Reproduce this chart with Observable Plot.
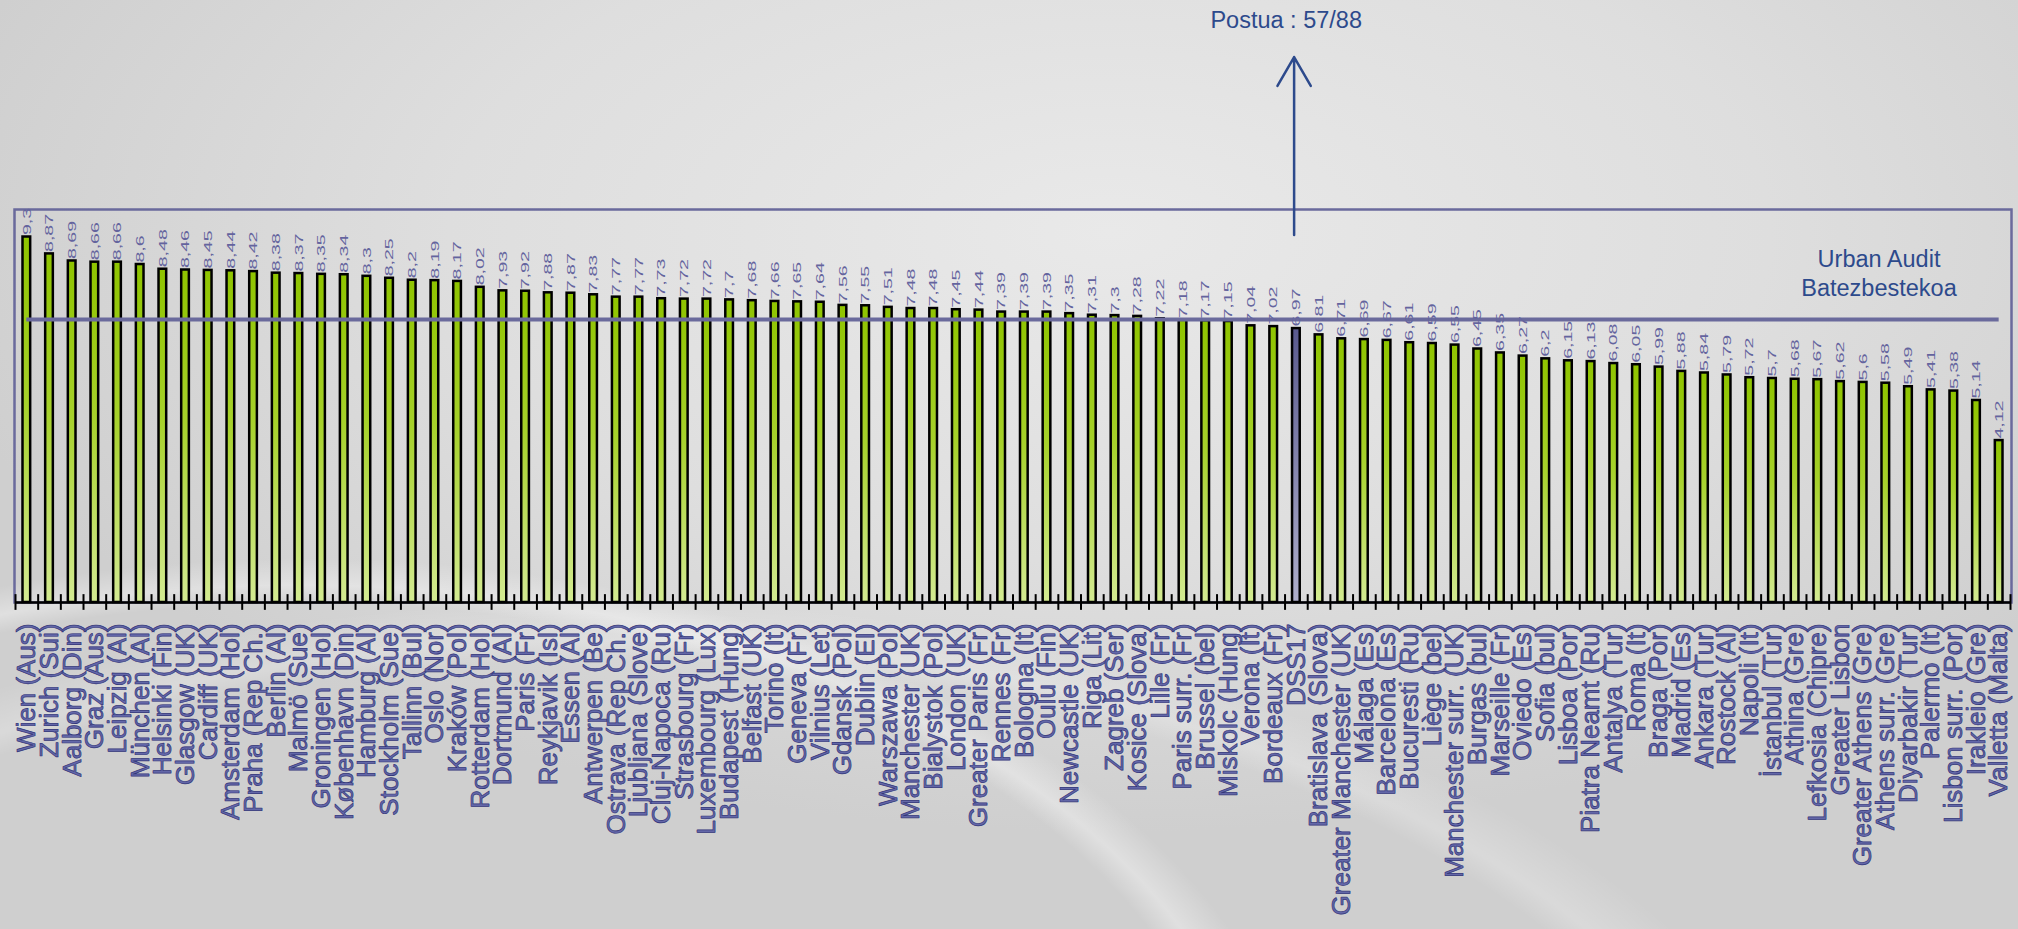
<!DOCTYPE html>
<html>
<head>
<meta charset="utf-8">
<script src="https://cdn.jsdelivr.net/npm/d3@7"></script>
<script src="https://cdn.jsdelivr.net/npm/@observablehq/plot@0.6"></script>
<style>
html, body { margin: 0; padding: 0; width: 2018px; height: 929px; overflow: hidden; }
body {
  font-family: "Liberation Sans", Arial, sans-serif;
  background:
    radial-gradient(ellipse 1500px 900px at 15% 125%, rgba(255,255,255,0) 62%, rgba(255,255,255,0.35) 64%, rgba(255,255,255,0) 67%),
    radial-gradient(ellipse 1800px 1000px at 30% 140%, rgba(255,255,255,0) 64%, rgba(255,255,255,0.22) 66%, rgba(255,255,255,0) 70%),
    radial-gradient(ellipse 1200px 600px at 55% 25%, #e9e9e9 0%, #dedede 55%, #cfcfcf 100%);
}
#chart svg { display: block; }
</style>
</head>
<body>
<div id="chart"></div>
<script>
// ---- data ----
const cities = [
  "Wien (Aus)", "Zurich (Sui)", "Aalborg (Din)", "Graz (Aus)", "Leipzig (Al)", "München (Al)", "Helsinki (Fin)", "Glasgow (UK)", "Cardiff (UK)", "Amsterdam (Hol)",
  "Praha (Rep Ch.)", "Berlin (Al)", "Malmö (Sue)", "Groningen (Hol)", "København (Din)", "Hamburg (Al)", "Stockholm (Sue)", "Tallinn (Bul)", "Oslo (Nor)", "Kraków (Pol)",
  "Rotterdam (Hol)", "Dortmund (Al)", "Paris (Fr)", "Reykjavik (Isl)", "Essen (Al)", "Antwerpen (Be)", "Ostrava (Rep Ch.)", "Ljubljana (Slove)", "Cluj-Napoca (Ru)", "Strasbourg (Fr)",
  "Luxembourg (Lux)", "Budapest (Hung)", "Belfast (UK)", "Torino (It)", "Geneva (Fr)", "Vilnius (Let)", "Gdansk (Pol)", "Dublin (EI)", "Warszawa (Pol)", "Manchester (UK)",
  "Bialystok (Pol)", "London (UK)", "Greater Paris (Fr)", "Rennes (Fr)", "Bologna (It)", "Oulu (Fin)", "Newcastle (UK)", "Riga (Lit)", "Zagreb (Ser)", "Kosice (Slova)",
  "Lille (Fr)", "Paris surr. (Fr)", "Brussel (bel)", "Miskolc (Hung)", "Verona (It)", "Bordeaux (Fr)", "DSS17", "Bratislava (Slova)", "Greater Manchester (UK)", "Málaga (Es)",
  "Barcelona (Es)", "Bucuresti (Ru)", "Liège (bel)", "Manchester surr. (UK)", "Burgas (bul)", "Marseille (Fr)", "Oviedo (Es)", "Sofia (bul)", "Lisboa (Por)", "Piatra Neamt (Ru)",
  "Antalya (Tur)", "Roma (It)", "Braga (Por)", "Madrid (Es)", "Ankara (Tur)", "Rostock (Al)", "Napoli (It)", "İstanbul (Tur)", "Athina (Gre)", "Lefkosia (Chipre)",
  "Greater Lisbon", "Greater Athens (Gre)", "Athens surr. (Gre)", "Diyarbakir (Tur)", "Palermo (It)", "Lisbon surr. (Por)", "Irakleio (Gre)", "Valletta (Malta)"
];
const values = [
  9.3, 8.87, 8.69, 8.66, 8.66, 8.6, 8.48, 8.46, 8.45, 8.44,
  8.42, 8.38, 8.37, 8.35, 8.34, 8.3, 8.25, 8.2, 8.19, 8.17,
  8.02, 7.93, 7.92, 7.88, 7.87, 7.83, 7.77, 7.77, 7.73, 7.72,
  7.72, 7.7, 7.68, 7.66, 7.65, 7.64, 7.56, 7.55, 7.51, 7.48,
  7.48, 7.45, 7.44, 7.39, 7.39, 7.39, 7.35, 7.31, 7.3, 7.28,
  7.22, 7.18, 7.17, 7.15, 7.04, 7.02, 6.97, 6.81, 6.71, 6.69,
  6.67, 6.61, 6.59, 6.55, 6.45, 6.35, 6.27, 6.2, 6.15, 6.13,
  6.08, 6.05, 5.99, 5.88, 5.84, 5.79, 5.72, 5.7, 5.68, 5.67,
  5.62, 5.6, 5.58, 5.49, 5.41, 5.38, 5.14, 4.12
];
const highlight = "DSS17";
const average = 7.2;
const averageLabel = ["Urban Audit", "Batezbestekoa"];
const rankLabel = "Postua : 57/88";

// ---- build ----
const data = cities.map((city, i) => ({city, value: values[i], i}));
const rank = cities.indexOf(highlight);
const fmt = v => String(v).replace(".", ",");
const purple = "#6a6a9c";
const blue = "#2d4a8c";
const font = "Liberation Sans, Arial, sans-serif";

// stretch value labels along their reading direction, like the original
const stretch = (index, scales, vals, dims, context, next) => {
  const g = next(index, scales, vals, dims, context);
  if (g) g.querySelectorAll("text").forEach(t => {
    const tr = t.getAttribute("transform") || "";
    if (!/scale/.test(tr)) t.setAttribute("transform", tr + " scale(1.7,1)");
  });
  return g;
};

const chart = Plot.plot({
  width: 2018,
  height: 929,
  marginLeft: 15,
  marginRight: 8,
  marginTop: 209,
  marginBottom: 327,
  style: {background: "transparent", fontFamily: font, overflow: "visible"},
  x: {domain: [0, cities.length], axis: null},
  y: {domain: [0, 10], axis: null},
  marks: [
    Plot.frame({stroke: purple, strokeWidth: 2.5, insetLeft: -1, insetRight: -1}),
    Plot.rectY(data.filter(d => d.city !== highlight), {
      x1: d => d.i, x2: d => d.i + 1, y: "value",
      insetLeft: 7.5, insetRight: 7.5,
      fill: "url(#gGreen)", stroke: "#000", strokeWidth: 2.5
    }),
    Plot.rectY(data.filter(d => d.city === highlight), {
      x1: d => d.i, x2: d => d.i + 1, y: "value",
      insetLeft: 7.5, insetRight: 7.5,
      fill: "url(#gPurple)", stroke: "#000", strokeWidth: 2.5
    }),
    Plot.ruleY([0], {stroke: "#000", strokeWidth: 2.5}),
    Plot.ruleX(d3.range(cities.length + 1), {x: d => d, y1: -0.2, y2: 0.2, stroke: "#000", strokeWidth: 2}),
    Plot.ruleY([average], {x1: 0.5, x2: cities.length - 0.5, stroke: purple, strokeWidth: 4}),
    Plot.text(data, {
      x: d => d.i + 0.5, y: "value", text: d => fmt(d.value),
      rotate: -90, textAnchor: "start", dy: -2,
      fontSize: 11.5, fill: "#64649e",
      render: stretch
    }),
    Plot.text(data, {
      x: d => d.i + 0.5, y: 0, text: "city",
      rotate: -90, textAnchor: "end", dy: 21,
      fontSize: 26, fill: "#6367a8", stroke: "#33367a", strokeWidth: 0.7, paintOrder: "normal"
    }),
    Plot.arrow([data[rank]], {
      x1: d => d.i + 0.4, x2: d => d.i + 0.4, y1: 9.35, y2: 13.88,
      stroke: blue, strokeWidth: 2.5, headLength: 20, headAngle: 60
    }),
    Plot.text([rankLabel], {
      x: rank + 0.05, y: 14.81, text: d => d,
      fontSize: 23.5, fill: blue, lineAnchor: "middle"
    }),
    Plot.text([averageLabel.join("\n")], {
      x: 82.2, y: 8.41, text: d => d,
      fontSize: 23.5, fill: blue, lineAnchor: "middle", lineHeight: 1.23
    })
  ]
});

// gradients for the bars
const ns = "http://www.w3.org/2000/svg";
const defs = document.createElementNS(ns, "defs");
defs.innerHTML = `
  <linearGradient id="gGreen" x1="0" y1="0" x2="0" y2="1">
    <stop offset="0" stop-color="#8fc400"/>
    <stop offset="0.45" stop-color="#a6d12a"/>
    <stop offset="1" stop-color="#d3ea92"/>
  </linearGradient>
  <linearGradient id="gPurple" x1="0" y1="0" x2="0" y2="1">
    <stop offset="0" stop-color="#5a5a8e"/>
    <stop offset="1" stop-color="#aeaecb"/>
  </linearGradient>`;
chart.insertBefore(defs, chart.firstChild);

document.getElementById("chart").appendChild(chart);
</script>
</body>
</html>
